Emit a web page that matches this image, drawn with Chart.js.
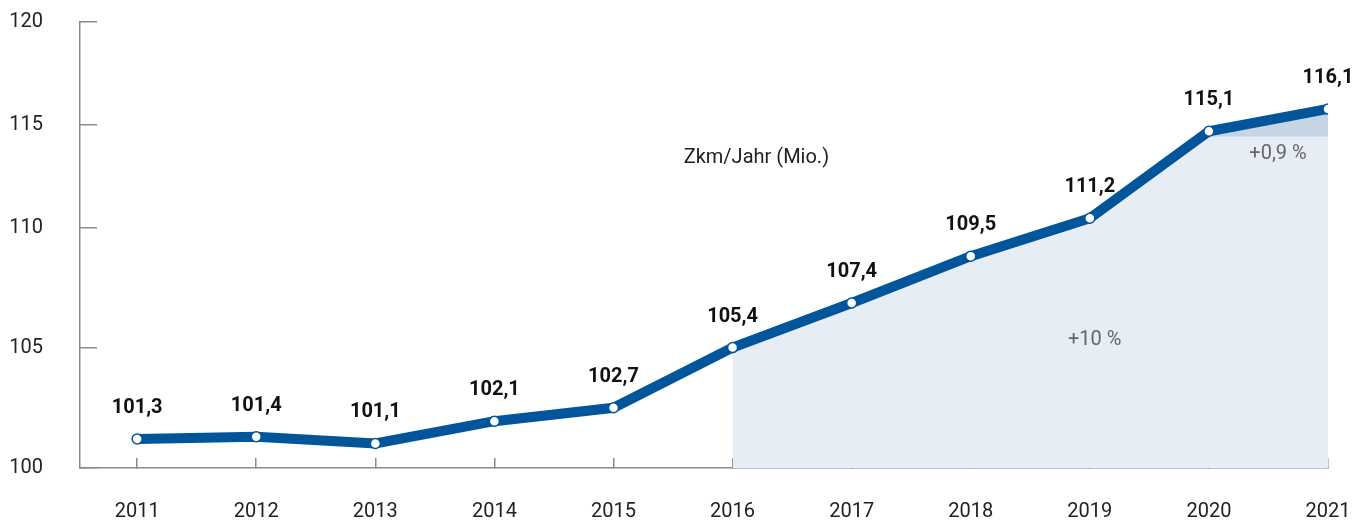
<!DOCTYPE html>
<html>
<head>
<meta charset="utf-8">
<script src="https://cdn.jsdelivr.net/npm/chart.js@4/dist/chart.umd.min.js"></script>
<style>
	html, body { margin: 0; padding: 0; background: #fff; }
	#wrap { width: 1357px; height: 520px; position: relative; }
</style>
</head>
<body>
<div id="wrap"><canvas id="zkmChart"></canvas></div>
<script>
// values
var years = [2011, 2012, 2013, 2014, 2015, 2016, 2017, 2018, 2019, 2020, 2021];
var zkm = [101.3, 101.4, 101.1, 102.1, 102.7, 105.4, 107.4, 109.5, 111.2, 115.1, 116.1];
var labels = ['101,3', '101,4', '101,1', '102,1', '102,7', '105,4', '107,4', '109,5', '111,2', '115,1', '116,1'];

// y tick labels and where they sit in the original
var yTickLabels = ['100', '105', '110', '115', '120'];
var yTickValues = [100, 105.38, 110.76, 115.38, 120];

// shaded growth areas (+10 % since 2016, +0,9 % in the last year)
var splitValue = 114.85;
var growthYears = [2016, 2017, 2018, 2019, 2020, 2021];
var growthTop = [105.4, 107.4, 109.5, 111.2, splitValue, splitValue];
var lastYears = [2020, 2021];
var lastValues = [115.1, 116.1];

var notes = [
	{ text: 'Zkm/Jahr (Mio.)', x: 2016.2, y: 113.9, color: '#222' },
	{ text: '+10 %', x: 2019.04, y: 105.74, color: '#666' },
	{ text: '+0,9 %', x: 2020.58, y: 114.1, color: '#666' }
];

function pts(xs, ys) {
	var out = [];
	for (var i = 0; i < xs.length; i++) out.push({ x: xs[i], y: ys[i] });
	return out;
}

var labelPlugin = {
	id: 'labels',
	afterDatasetsDraw: function (chart) {
		var ctx = chart.ctx;
		var meta = chart.getDatasetMeta(0);
		ctx.save();
		ctx.font = 'bold 20px Roboto';
		ctx.fillStyle = '#111';
		ctx.textAlign = 'center';
		ctx.textBaseline = 'middle';
		meta.data.forEach(function (p, i) {
			ctx.fillText(labels[i], p.x, p.y - 31);
		});
		var xs = chart.scales.x, ys = chart.scales.y;
		ctx.font = '20px Roboto';
		notes.forEach(function (n) {
			ctx.fillStyle = n.color;
			ctx.fillText(n.text, xs.getPixelForValue(n.x), ys.getPixelForValue(n.y));
		});
		ctx.restore();
	}
};

var chart = new Chart(document.getElementById('zkmChart'), {
	type: 'line',
	data: {
		datasets: [{
			data: pts(years, zkm),
			borderColor: '#00559b',
			borderWidth: 10,
			pointRadius: 5,
			pointHoverRadius: 5,
			pointBackgroundColor: '#fff',
			pointBorderColor: '#00559b',
			pointBorderWidth: 1.5,
			fill: false,
			order: 0
		}, {
			data: pts(lastYears, lastValues),
			borderWidth: 0,
			pointRadius: 0,
			backgroundColor: '#c6d5e3',
			fill: { value: splitValue },
			order: 1
		}, {
			data: pts(growthYears, growthTop),
			borderWidth: 0,
			pointRadius: 0,
			backgroundColor: '#e7edf4',
			fill: 'start',
			order: 2
		}]
	},
	options: {
		responsive: true,
		maintainAspectRatio: false,
		animation: false,
		layout: { padding: { top: 22, right: 29, left: 0, bottom: 0 } },
		plugins: { legend: { display: false }, tooltip: { enabled: false } },
		scales: {
			x: {
				type: 'linear',
				min: 2010.52,
				max: 2021,
				afterBuildTicks: function (s) {
					s.ticks = years.map(function (v) { return { value: v }; });
				},
				afterFit: function (s) {
					s.height = 52;
					s.paddingLeft = 0;
					s.paddingRight = 0;
				},
				grid: { drawOnChartArea: false, drawTicks: true, tickLength: -10, color: '#8a8a8a', lineWidth: 1.5 },
				border: { color: '#8a8a8a', width: 1.5 },
				ticks: {
					color: '#222',
					font: { family: 'Roboto', size: 20 },
					padding: 42,
					maxRotation: 0,
					callback: function (v) { return String(v); }
				}
			},
			y: {
				min: 100,
				max: 120,
				afterBuildTicks: function (s) {
					s.ticks = yTickValues.map(function (v) { return { value: v }; });
				},
				afterFit: function (s) {
					s.width = 80;
					s.paddingTop = 0;
					s.paddingBottom = 0;
				},
				grid: { drawOnChartArea: false, drawTicks: true, tickLength: -17, color: '#8a8a8a', lineWidth: 1.5 },
				border: { color: '#8a8a8a', width: 1.5 },
				ticks: {
					color: '#222',
					font: { family: 'Roboto', size: 20 },
					padding: 54,
					callback: function (v, i) { return yTickLabels[i]; }
				}
			}
		}
	},
	plugins: [labelPlugin]
});
</script>
</body>
</html>
